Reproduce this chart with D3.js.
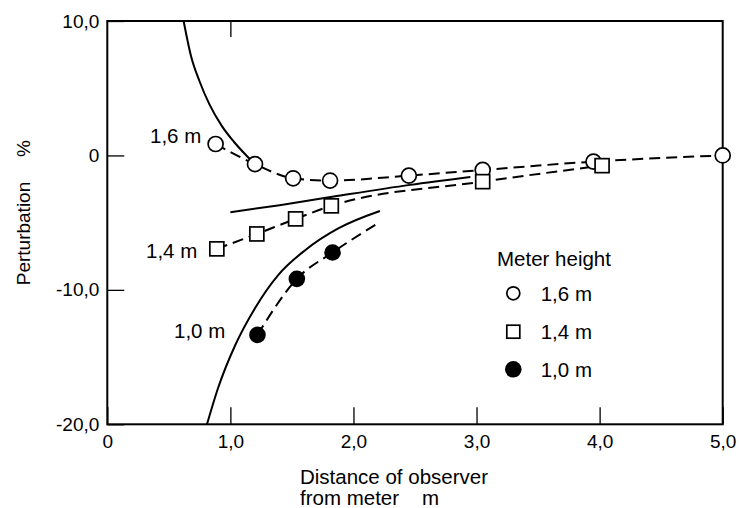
<!DOCTYPE html>
<html>
<head>
<meta charset="utf-8">
<script src="https://cdn.jsdelivr.net/npm/d3@7/dist/d3.min.js"></script>
<style>
  html, body { margin: 0; padding: 0; background: #fff; }
  svg { display: block; font-family: "Liberation Sans", Arial, Helvetica, sans-serif; }
</style>
</head>
<body>
<svg id="chart" width="739" height="508"></svg>
<script>
// ---- Data ----
const xTicks = [0, 1, 2, 3, 4, 5];
const yTicks = [10, 0, -10, -20];

// measured points, meter height 1.6 m (open circles)
const pts16 = [[0.88, 0.85], [1.2, -0.65], [1.51, -1.7], [1.81, -1.87], [2.45, -1.5], [3.05, -1.08], [3.95, -0.46], [5.0, 0.0]];
// meter height 1.4 m (open squares)
const pts14 = [[0.89, -6.95], [1.215, -5.84], [1.53, -4.72], [1.82, -3.75], [3.05, -1.95], [4.02, -0.76]];
// meter height 1.0 m (filled circles)
const pts10 = [[1.22, -13.35], [1.54, -9.18], [1.83, -7.22]];
// dashed fit for 1.0 m (extends beyond the last point)
const fit10 = [[1.22, -13.35], [1.54, -9.18], [1.83, -7.22], [2.18, -5.15]];

// theoretical (solid) curves
const theo16 = [[0.62, 10], [0.68, 7.4], [0.75, 5.5], [0.83, 3.8], [0.93, 2.2], [1.03, 1.0], [1.13, 0.0], [1.22, -0.8]];
const theo14 = [[1.0, -4.22], [1.4, -3.7], [1.84, -3.06], [2.46, -2.19], [2.95, -1.6]];
const theo10 = [[0.81, -20], [0.9, -17.3], [1.04, -14.1], [1.2, -11.36], [1.39, -8.88], [1.61, -7.03], [1.88, -5.41], [2.215, -4.13]];

const legendLabels = ["1,6 m", "1,4 m", "1,0 m"];

// ---- Chart ----
const svg = d3.select("#chart");
const x = d3.scaleLinear().domain([0, 5]).range([107.3, 722.7]);
const y = d3.scaleLinear().domain([-20, 10]).range([424.3, 21]);
const fmt = d => d === 0 ? "0" : d.toFixed(1).replace(".", ",");
const FS = 19;    // tick labels
const FL = 20.5;  // text labels

// frame
svg.append("rect")
  .attr("x", x(0)).attr("y", y(10))
  .attr("width", x(5) - x(0)).attr("height", y(-20) - y(10))
  .attr("fill", "none").attr("stroke", "#000").attr("stroke-width", 2);

// bottom axis
const gx = svg.append("g").attr("transform", `translate(0,${y(-20)})`)
  .call(d3.axisBottom(x).tickValues(xTicks).tickSize(-17).tickPadding(10).tickFormat(fmt));
// left axis
const gy = svg.append("g").attr("transform", `translate(${x(0)},0)`)
  .call(d3.axisLeft(y).tickValues(yTicks).tickSize(-17).tickPadding(8).tickFormat(fmt));
// top tick
const gt = svg.append("g").attr("transform", `translate(0,${y(10)})`)
  .call(d3.axisTop(x).tickValues([1]).tickSize(-16).tickFormat(""));

[gx, gy, gt].forEach(g => {
  g.select(".domain").remove();
  g.selectAll(".tick line").attr("stroke", "#000").attr("stroke-width", 1.3);
  g.selectAll(".tick text").attr("fill", "#000").attr("font-size", FS).attr("font-family", "Liberation Sans, Arial, sans-serif");
});

// axis titles
svg.append("text").attr("x", 300).attr("y", 484).attr("font-size", FL).text("Distance of observer");
svg.append("text").attr("x", 300).attr("y", 505).attr("font-size", FL).attr("xml:space", "preserve").text("from meter    m");

svg.append("text").attr("transform", "translate(30,233.5) rotate(-90)")
  .attr("text-anchor", "middle").attr("font-size", FS).text("Perturbation");
svg.append("text").attr("transform", "translate(30,148.5) rotate(-90)")
  .attr("text-anchor", "middle").attr("font-size", FS).text("%");

// lines
const line = d3.line().x(d => x(d[0])).y(d => y(d[1])).curve(d3.curveMonotoneX);
const solid = (data) => svg.append("path").datum(data).attr("d", line)
  .attr("fill", "none").attr("stroke", "#000").attr("stroke-width", 2);
const dashed = (data) => svg.append("path").datum(data).attr("d", line)
  .attr("fill", "none").attr("stroke", "#000").attr("stroke-width", 2).attr("stroke-dasharray", "11,6");

solid(theo16);
solid(theo14);
solid(theo10);
dashed(pts16);
dashed(pts14);
dashed(fit10);

// markers
svg.append("g").selectAll("circle").data(pts16).join("circle")
  .attr("cx", d => x(d[0])).attr("cy", d => y(d[1])).attr("r", 7.5)
  .attr("fill", "#fff").attr("stroke", "#000").attr("stroke-width", 1.7);
svg.append("g").selectAll("rect").data(pts14).join("rect")
  .attr("x", d => x(d[0]) - 7).attr("y", d => y(d[1]) - 7).attr("width", 14).attr("height", 14)
  .attr("fill", "#fff").attr("stroke", "#000").attr("stroke-width", 1.7);
svg.append("g").selectAll("circle").data(pts10).join("circle")
  .attr("cx", d => x(d[0])).attr("cy", d => y(d[1])).attr("r", 8.3)
  .attr("fill", "#000");

// curve labels
svg.append("text").attr("x", 150).attr("y", 143).attr("font-size", FL).text("1,6 m");
svg.append("text").attr("x", 146).attr("y", 258).attr("font-size", FL).text("1,4 m");
svg.append("text").attr("x", 174).attr("y", 338).attr("font-size", FL).text("1,0 m");

// legend
const lg = svg.append("g");
lg.append("text").attr("x", 497).attr("y", 266).attr("font-size", FL).text("Meter height");
const ly = [293.3, 331.7, 369.3];
lg.append("circle").attr("cx", 513.3).attr("cy", ly[0]).attr("r", 6.5)
  .attr("fill", "#fff").attr("stroke", "#000").attr("stroke-width", 1.7);
lg.append("rect").attr("x", 513.3 - 6.5).attr("y", ly[1] - 6.5).attr("width", 13).attr("height", 13)
  .attr("fill", "#fff").attr("stroke", "#000").attr("stroke-width", 1.7);
lg.append("circle").attr("cx", 513.3).attr("cy", ly[2]).attr("r", 8.3).attr("fill", "#000");
lg.selectAll("text.item").data(legendLabels).join("text").attr("class", "item")
  .attr("x", 540.7).attr("y", (d, i) => ly[i] + 7.5).attr("font-size", FL).text(d => d);
</script>
</body>
</html>
